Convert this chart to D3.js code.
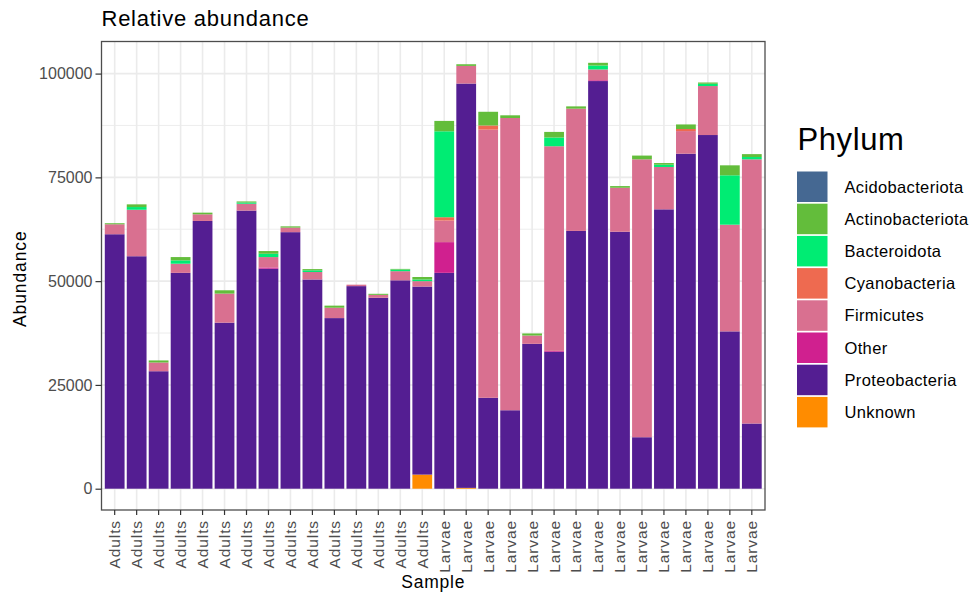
<!DOCTYPE html>
<html>
<head>
<meta charset="utf-8">
<script src="https://cdn.jsdelivr.net/npm/d3@7"></script>
<style>
  html, body { margin: 0; padding: 0; background: #ffffff; }
  svg { display: block; font-family: "Liberation Sans", Arial, Helvetica, sans-serif; }
</style>
</head>
<body>
<svg id="chart" width="977" height="595"></svg>
<script>
// Samples along the x axis and the life stage printed under each one
const samples = d3.range(1, 31).map(i => "S" + i);
const stages = [
  "Adults","Adults","Adults","Adults","Adults","Adults","Adults","Adults",
  "Adults","Adults","Adults","Adults","Adults","Adults","Adults",
  "Larvae","Larvae","Larvae","Larvae","Larvae","Larvae","Larvae","Larvae",
  "Larvae","Larvae","Larvae","Larvae","Larvae","Larvae","Larvae"
];

// Phylum levels (legend order) and fill colours
const phyla = ["Acidobacteriota","Actinobacteriota","Bacteroidota","Cyanobacteria",
               "Firmicutes","Other","Proteobacteria","Unknown"];
const phylumColors = ["#456892","#63BD3B","#00EC73","#EE6A50",
                      "#D97090","#D0208F","#541E92","#FF8C00"];

// Read counts per phylum, one value per sample
const acidobacteriota = [0,0,0,0,0,0,0,0,0,0,0,0,0,0,0, 0,0,0,0,0,0,0,0,0,0,0,0,0,0,0];
const actinobacteriota = [250,650,500,800,400,800,250,650,300,300,500,0,250,150,600,
                          2500,400,3300,650,500,1350,550,650,400,900,400,1100,300,2400,700];
const bacteroidota = [0,650,0,800,0,0,300,800,0,400,0,0,0,400,400,
                      20700,0,0,0,0,2100,0,950,0,0,550,0,550,11900,550];
const cyanobacteria = [0,0,0,0,0,0,0,0,0,0,0,0,0,0,0,
                       800,0,1000,0,0,0,0,0,0,0,0,500,0,0,0];
const firmicutes = [2400,11200,2100,2200,1600,7000,1650,2500,1100,1800,2500,350,700,2200,1300,
                    5200,4250,64600,70400,2000,49300,29450,2600,10600,66950,10200,5450,11800,25700,63650];
const other = [0,0,0,0,0,0,0,300,0,0,0,0,0,0,0,
               7400,0,0,0,0,200,0,200,0,0,0,0,0,0,0];
const proteobacteria = [61300,56000,28300,52000,64500,40000,67000,53000,61800,50400,41100,48800,46000,50200,45300,
                        52000,97400,21900,18900,34900,33000,62100,98200,61900,12400,67300,80700,85200,37900,15700];
const unknown = [0,0,0,0,0,0,0,0,0,0,0,0,0,0,3400,
                 0,200,0,0,0,0,0,0,0,0,0,0,0,0,0];

const yTicks = [0, 25000, 50000, 75000, 100000];
const yMinor = [12500, 37500, 62500, 87500];

const seriesValues = [acidobacteriota, actinobacteriota, bacteroidota, cyanobacteria,
                      firmicutes, other, proteobacteria, unknown];

// One row per sample for the stack layout
const rows = samples.map((s, i) => {
  const r = { sample: s };
  phyla.forEach((p, k) => { r[p] = seriesValues[k][i]; });
  return r;
});

// Stack with the last level at the bottom, first level on top
const stack = d3.stack().keys(phyla.slice().reverse());
const layers = stack(rows);

const svg = d3.select("#chart");
const panel = { left: 101.5, right: 765, top: 41.5, bottom: 510 };
const FONT = "'Liberation Sans', Arial, Helvetica, sans-serif";

const color = d3.scaleOrdinal().domain(phyla).range(phylumColors);

const x = d3.scaleBand()
  .domain(samples)
  .range([panel.left, panel.right])
  .paddingInner(0.1)
  .paddingOuter(0.15);

const maxTotal = d3.max(rows, r => d3.sum(phyla, p => r[p]));
const pad = maxTotal * 0.05;
const y = d3.scaleLinear()
  .domain([-pad, maxTotal + pad])
  .range([panel.bottom, panel.top]);

// Panel background
svg.append("rect")
  .attr("x", panel.left).attr("y", panel.top)
  .attr("width", panel.right - panel.left).attr("height", panel.bottom - panel.top)
  .attr("fill", "#ffffff");

// Grid lines
const grid = svg.append("g");
grid.selectAll("line.minor").data(yMinor).join("line")
  .attr("x1", panel.left).attr("x2", panel.right)
  .attr("y1", d => y(d)).attr("y2", d => y(d))
  .attr("stroke", "#EBEBEB").attr("stroke-width", 0.9);
grid.selectAll("line.majory").data(yTicks).join("line")
  .attr("x1", panel.left).attr("x2", panel.right)
  .attr("y1", d => y(d)).attr("y2", d => y(d))
  .attr("stroke", "#EBEBEB").attr("stroke-width", 1.6);
grid.selectAll("line.majorx").data(samples).join("line")
  .attr("x1", d => x(d) + x.bandwidth() / 2).attr("x2", d => x(d) + x.bandwidth() / 2)
  .attr("y1", panel.top).attr("y2", panel.bottom)
  .attr("stroke", "#EBEBEB").attr("stroke-width", 1.6);

// Stacked bars
svg.append("g").selectAll("g").data(layers).join("g")
  .attr("fill", d => color(d.key))
  .selectAll("rect").data(d => d.filter(s => s[1] > s[0])).join("rect")
  .attr("x", d => x(d.data.sample))
  .attr("width", x.bandwidth())
  .attr("y", d => y(d[1]))
  .attr("height", d => y(d[0]) - y(d[1]));

// Panel border
svg.append("rect")
  .attr("x", panel.left).attr("y", panel.top)
  .attr("width", panel.right - panel.left).attr("height", panel.bottom - panel.top)
  .attr("fill", "none").attr("stroke", "#4D4D4D").attr("stroke-width", 1.3);

// Y axis
const yAxis = d3.axisLeft(y).tickValues(yTicks).tickSize(6).tickPadding(3)
  .tickFormat(d3.format("d"));
const gy = svg.append("g").attr("transform", `translate(${panel.left},0)`).call(yAxis);
gy.select(".domain").remove();
gy.selectAll(".tick line").attr("stroke", "#333333").attr("stroke-width", 1.2);
gy.selectAll(".tick text").attr("fill", "#4D4D4D")
  .style("font-family", FONT).style("font-size", "16px");

// X axis
const xAxis = d3.axisBottom(x).tickSize(5).tickFormat((d, i) => stages[i]);
const gx = svg.append("g").attr("transform", `translate(0,${panel.bottom})`).call(xAxis);
gx.select(".domain").remove();
gx.selectAll(".tick line").attr("stroke", "#333333").attr("stroke-width", 1.2);
gx.selectAll(".tick text")
  .attr("fill", "#4D4D4D")
  .style("font-family", FONT).style("font-size", "15.5px").style("letter-spacing", "0.9px")
  .attr("text-anchor", "end")
  .attr("transform", "rotate(-90)")
  .attr("x", -10).attr("y", 0).attr("dy", "0.35em");

// Titles
svg.append("text").attr("x", panel.left).attr("y", 25.5)
  .style("font-family", FONT).style("font-size", "22px").style("letter-spacing", "0.75px")
  .attr("fill", "#000").text("Relative abundance");

svg.append("text").attr("x", (panel.left + panel.right) / 2).attr("y", 588)
  .attr("text-anchor", "middle")
  .style("font-family", FONT).style("font-size", "17.5px").style("letter-spacing", "0.8px")
  .attr("fill", "#000").text("Sample");

svg.append("text")
  .attr("transform", `translate(26,${(panel.top + panel.bottom) / 2 + 3}) rotate(-90)`)
  .attr("text-anchor", "middle")
  .style("font-family", FONT).style("font-size", "17.5px").style("letter-spacing", "0.9px")
  .attr("fill", "#000").text("Abundance");

// Legend
const legend = svg.append("g");
legend.append("text").attr("x", 797.5).attr("y", 150)
  .style("font-family", FONT).style("font-size", "31px").style("letter-spacing", "0.6px")
  .attr("fill", "#000").text("Phylum");

const keyTop = 171.5, keyStep = 32.2, keySize = 30.5;
const items = legend.selectAll("g.item").data(phyla).join("g")
  .attr("transform", (d, i) => `translate(797,${keyTop + i * keyStep})`);
items.append("rect")
  .attr("width", keySize).attr("height", keySize)
  .attr("fill", d => color(d));
items.append("text")
  .attr("x", 47.5).attr("y", keySize / 2).attr("dy", "0.36em")
  .style("font-family", FONT).style("font-size", "16.5px").style("letter-spacing", "0.35px")
  .attr("fill", "#000").text(d => d);
</script>
</body>
</html>
